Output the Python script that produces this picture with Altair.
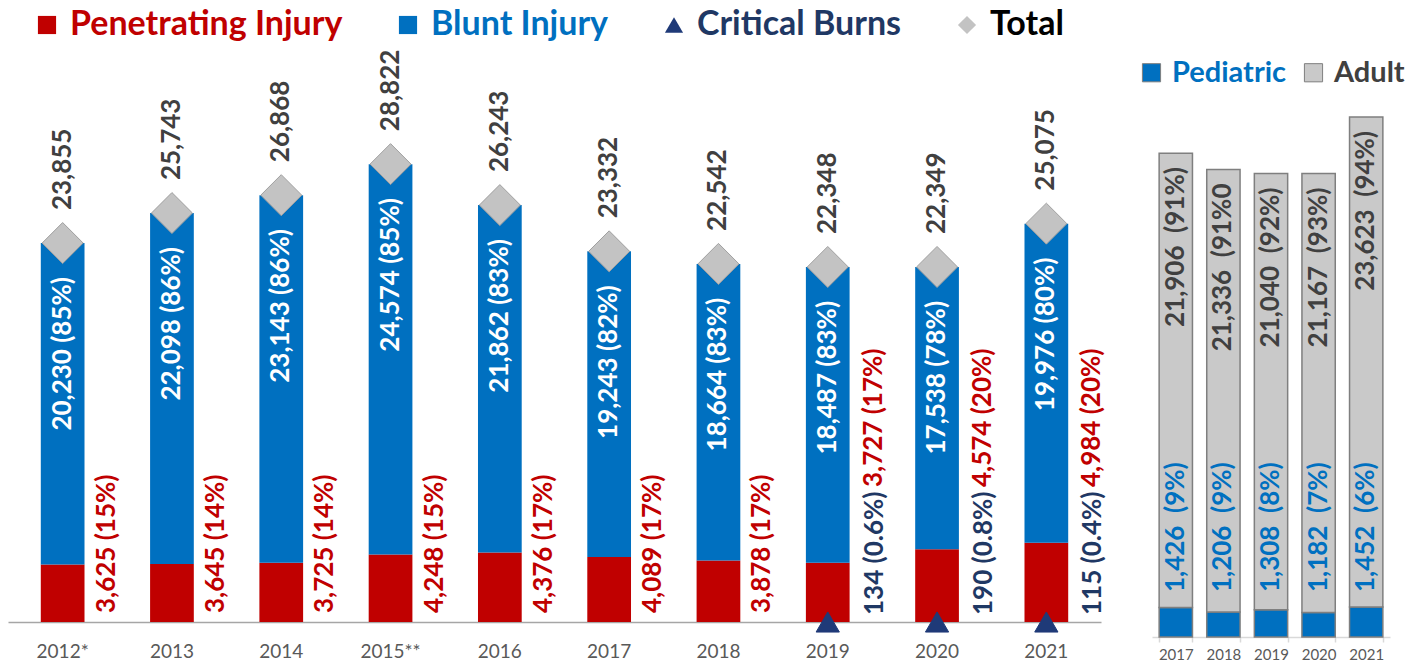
import altair as alt
import pandas as pd

# ---------------- data ----------------
years = ["2012*", "2013", "2014", "2015**", "2016", "2017", "2018", "2019", "2020", "2021"]
penetrating = [3625, 3645, 3725, 4248, 4376, 4089, 3878, 3727, 4574, 4984]
penetrating_pct = ["15%", "14%", "14%", "15%", "17%", "17%", "17%", "17%", "20%", "20%"]
blunt = [20230, 22098, 23143, 24574, 21862, 19243, 18664, 18487, 17538, 19976]
blunt_pct = ["85%", "86%", "86%", "85%", "83%", "82%", "83%", "83%", "78%", "80%"]
burns = [None, None, None, None, None, None, None, 134, 190, 115]
burns_pct = [None, None, None, None, None, None, None, "0.6%", "0.8%", "0.4%"]
totals = [23855, 25743, 26868, 28822, 26243, 23332, 22542, 22348, 22349, 25075]

age_years = ["2017", "2018", "2019", "2020", "2021"]
pediatric = [1426, 1206, 1308, 1182, 1452]
pediatric_pct = ["(9%)", "(9%)", "(8%)", "(7%)", "(6%)"]
adult = [21906, 21336, 21040, 21167, 23623]
adult_pct = ["(91%)", "(91%0", "(92%)", "(93%)", "(94%)"]

series_main = ["Penetrating Injury", "Blunt Injury", "Critical Burns", "Total"]
series_age = ["Pediatric", "Adult"]

# ---------------- styles ----------------
FONT = "Lato"
RED = "#C00000"
BLUE = "#0070C0"
NAVY_TXT = "#1F3864"
NAVY = "#1F3A78"
DARK = "#404040"
DIAMOND = "#C3C3C3"
ADULT = "#C9C9C9"

# ---------------- tables ----------------
main = pd.DataFrame({
    "year": years,
    "total": totals,
    "burns": burns,
    "total_label": [f"{v:,}" for v in totals],
    "blunt_label": [f"{v:,} ({p})" for v, p in zip(blunt, blunt_pct)],
    "pen_label": [f"{v:,} ({p})" for v, p in zip(penetrating, penetrating_pct)],
    "burns_label": [f"{v:,} ({p})" if v is not None else None for v, p in zip(burns, burns_pct)],
})

bar_rows = []
for y, p, t in zip(years, penetrating, totals):
    bar_rows.append({"year": y, "series": "Penetrating Injury", "y0": 0, "y1": p})
    bar_rows.append({"year": y, "series": "Blunt Injury", "y0": p, "y1": t})
bars = pd.DataFrame(bar_rows)

pt_rows = []
for y, t, b in zip(years, totals, burns):
    pt_rows.append({"year": y, "series": "Total", "value": t})
    if b is not None:
        pt_rows.append({"year": y, "series": "Critical Burns", "value": 0})
pts = pd.DataFrame(pt_rows)

age_rows = []
for y, pe, ad in zip(age_years, pediatric, adult):
    age_rows.append({"year": y, "series": "Pediatric", "y0": 0, "y1": pe})
    age_rows.append({"year": y, "series": "Adult", "y0": pe, "y1": pe + ad})
age_bars = pd.DataFrame(age_rows)

age = pd.DataFrame({
    "year": age_years,
    "total": [a + b for a, b in zip(pediatric, adult)],
    "adult_label": [f"{v:,} \u00a0{p}" for v, p in zip(adult, adult_pct)],
    "ped_label": [f"{v:,} \u00a0{p}" for v, p in zip(pediatric, pediatric_pct)],
})

# ---------------- left chart ----------------
x_left = alt.X(
    "year:N", sort=years, title=None,
    scale=alt.Scale(paddingInner=0.6, paddingOuter=0.3),
    axis=alt.Axis(labelAngle=0, ticks=False, domainColor="#A6A6A6", domainWidth=1.5,
                  labelFont=FONT, labelFontSize=19, labelColor="#595959", labelPadding=20,
                  grid=False),
)
y_scale_left = alt.Scale(domain=[0, 38650], nice=False, zero=True)

color_main = alt.Scale(domain=series_main, range=[RED, BLUE, NAVY, DIAMOND])
shape_main = alt.Scale(domain=series_main, range=["square", "square", "triangle-up", "diamond"])
label_color_main = alt.ExprRef(
    expr="datum.value == 'Penetrating Injury' ? '#C00000' : datum.value == 'Blunt Injury' ? '#0070C0' : datum.value == 'Critical Burns' ? '#1F3864' : '#000000'"
)
legend_main = alt.Legend(
    title=None, orient="none", legendX=22, legendY=0, direction="horizontal", padding=0,
    labelFont=FONT, labelFontSize=34, labelFontWeight="bold", labelColor=label_color_main,
    labelLimit=1000, labelOffset=6, symbolSize=330, symbolStrokeWidth=0, columnPadding=48,
)

bar_layer = alt.Chart(bars).mark_bar().encode(
    x=x_left,
    y=alt.Y("y0:Q", scale=y_scale_left, axis=None),
    y2="y1:Q",
    color=alt.Color("series:N", scale=color_main, legend=legend_main),
)

pt_layer = alt.Chart(pts).mark_point(filled=True, opacity=1, strokeWidth=1).encode(
    x=x_left,
    y=alt.Y("value:Q", scale=y_scale_left, axis=None),
    color=alt.Color("series:N", scale=color_main, legend=legend_main),
    shape=alt.Shape("series:N", scale=shape_main, legend=legend_main),
    size=alt.condition("datum.series == 'Total'", alt.value(1680), alt.value(540)),
    stroke=alt.condition("datum.series == 'Total'", alt.value("#A0A0A0"), alt.value(NAVY)),
)

txt = dict(font=FONT, fontSize=26, fontWeight="bold", angle=270, baseline="middle")

total_txt = alt.Chart(main).mark_text(align="left", dx=33, color=DARK, **txt).encode(
    x=x_left, y=alt.Y("total:Q", scale=y_scale_left, axis=None), text="total_label:N")
blunt_txt = alt.Chart(main).mark_text(align="right", dx=-34, color="white", **txt).encode(
    x=x_left, y=alt.Y("total:Q", scale=y_scale_left, axis=None), text="blunt_label:N")
pen_txt = alt.Chart(main).transform_filter("!isValid(datum.burns)").mark_text(
    align="left", dx=9, dy=44, color=RED, **txt).encode(
    x=x_left, y=alt.Y(datum=0, scale=y_scale_left, axis=None), text="pen_label:N")
pen_txt_b = alt.Chart(main).transform_filter("isValid(datum.burns)").mark_text(
    align="left", dx=135, dy=46, color=RED, **txt).encode(
    x=x_left, y=alt.Y(datum=0, scale=y_scale_left, axis=None), text="pen_label:N")
burn_txt = alt.Chart(main).transform_filter("isValid(datum.burns)").mark_text(
    align="left", dx=7, dy=47, color=NAVY_TXT, **txt).encode(
    x=x_left, y=alt.Y(datum=0, scale=y_scale_left, axis=None), text="burns_label:N")

left = alt.layer(bar_layer, pt_layer, total_txt, blunt_txt, pen_txt, pen_txt_b, burn_txt).properties(
    width=1093, height=614)

# ---------------- right chart ----------------
x_right = alt.X(
    "year:N", sort=age_years, title=None,
    scale=alt.Scale(paddingInner=0.3, paddingOuter=0.15),
    axis=alt.Axis(labelAngle=0, tickBand="extent", tickColor="#D9D9D9", tickSize=5, tickWidth=1.5,
                  domainColor="#D9D9D9", domainWidth=1.5, labelFont=FONT, labelFontSize=15,
                  labelColor="#595959", labelPadding=5, grid=False),
)
y_scale_right = alt.Scale(domain=[0, 30330], nice=False, zero=True)

color_age = alt.Scale(domain=series_age, range=[BLUE, ADULT])
legend_age = alt.Legend(
    title=None, orient="none", legendX=-15, legendY=50, direction="horizontal", padding=0,
    labelFont=FONT, labelFontSize=29, labelFontWeight="bold",
    labelColor=alt.ExprRef(expr="datum.value == 'Pediatric' ? '#0070C0' : '#404040'"),
    labelLimit=1000, labelOffset=6, symbolType="square", symbolSize=330,
    symbolStrokeColor="#7F7F7F", symbolStrokeWidth=1, columnPadding=12,
)

age_bar = alt.Chart(age_bars).mark_bar(stroke="#7F7F7F", strokeWidth=1.5).encode(
    x=x_right,
    y=alt.Y("y0:Q", scale=y_scale_right, axis=None),
    y2="y1:Q",
    color=alt.Color("series:N", scale=color_age, legend=legend_age),
)
adult_txt = alt.Chart(age).mark_text(align="right", dx=-14, color=DARK, **txt).encode(
    x=x_right, y=alt.Y("total:Q", scale=y_scale_right, axis=None), text="adult_label:N")
ped_txt = alt.Chart(age).mark_text(align="left", dx=45, color=BLUE, **txt).encode(
    x=x_right, y=alt.Y(datum=0, scale=y_scale_right, axis=None), text="ped_label:N")

right = alt.layer(age_bar, adult_txt, ped_txt).properties(width=238, height=629)

chart = alt.hconcat(left, right, spacing=51, bounds="flush").resolve_scale(
    color="independent", shape="independent", x="independent", y="independent"
).configure_view(stroke=None).properties(padding=0)

chart.save("out.html", embed_options={"renderer": "svg", "actions": False})
